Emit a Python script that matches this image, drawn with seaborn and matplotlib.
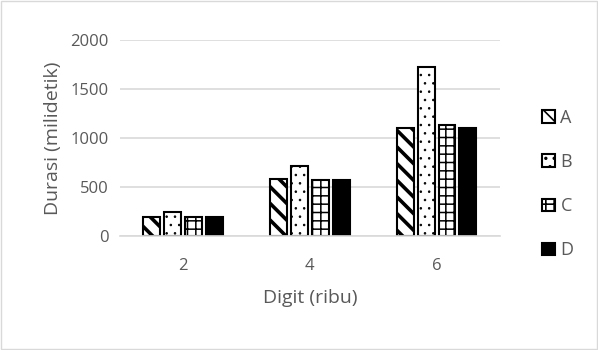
import numpy as np
import pandas as pd
import seaborn as sns
import matplotlib.pyplot as plt
from matplotlib.patches import Patch, Rectangle

# %% Data
lst_digit = ['2', '4', '6']
lst_series = ['A', 'B', 'C', 'D']
ary_a = [190, 580, 1100]
ary_b = [240, 710, 1720]
ary_c = [190, 575, 1130]
ary_d = [195, 570, 1100]

df = pd.DataFrame({
    'digit': lst_digit * 4,
    'metode': np.repeat(lst_series, 3),
    'durasi': ary_a + ary_b + ary_c + ary_d})

# %% Style
sns.set_style('white')
plt.rcParams['font.family'] = ['Open Sans', 'DejaVu Sans']
plt.rcParams['hatch.linewidth'] = 1.2
txt_col = '#595959'

lst_fill = ['white', 'white', 'white', 'black']
lst_hatch = ['\\\\', '..', '++', '']
lst_hatch_lw = [2.6, 0.6, 1.1, 1.0]

fig = plt.figure(figsize=(5.98, 3.5), dpi=100)
ax = fig.add_axes([0.2, 0.326, 0.636, 0.56])

sns.barplot(data=df, x='digit', y='durasi', hue='metode', order=lst_digit,
            hue_order=lst_series, width=0.66, gap=0.19, ax=ax, legend=False,
            palette=['white'] * 4)

for ind, cont in enumerate(ax.containers):
    for bar in cont:
        bar.set_facecolor(lst_fill[ind])
        bar.set_edgecolor('black')
        bar.set_linewidth(1.5)
        bar.set_hatch(lst_hatch[ind])
        if hasattr(bar, 'set_hatch_linewidth'):
            bar.set_hatch_linewidth(lst_hatch_lw[ind])

ax.set_ylim(0, 2000)
ax.set_yticks([0, 500, 1000, 1500, 2000])
ax.yaxis.grid(True, color='#d9d9d9', linewidth=1.2)
ax.set_axisbelow(True)
for side in ['top', 'right', 'left']:
    ax.spines[side].set_visible(False)
ax.spines['bottom'].set_color('#d9d9d9')
ax.spines['bottom'].set_linewidth(1.2)
ax.tick_params(axis='both', colors=txt_col, labelsize=12, length=0, pad=8)
ax.tick_params(axis='x', pad=16)
ax.set_xlabel('Digit (ribu)', fontsize=14, color=txt_col, labelpad=11)
ax.set_ylabel('Durasi (milidetik)', fontsize=14, color=txt_col, labelpad=6)

# legend
lst_handles = [Patch(facecolor=lst_fill[i], edgecolor='black', linewidth=1.5,
                     hatch=lst_hatch[i], label=lst_series[i])
               for i in range(4)]
leg = fig.legend(handles=lst_handles, loc='center left',
                 bbox_to_anchor=(0.895, 0.474), frameon=False, fontsize=13,
                 labelspacing=1.45, handlelength=0.7, handleheight=0.7,
                 handletextpad=0.3, borderaxespad=0)
for txt in leg.get_texts():
    txt.set_color(txt_col)

# figure border
fig.patches.append(Rectangle((0.001, 0.002), 0.997, 0.995, transform=fig.transFigure,
                             fill=False, edgecolor='#d9d9d9', linewidth=1))

fig.savefig('out.png', dpi=100)
